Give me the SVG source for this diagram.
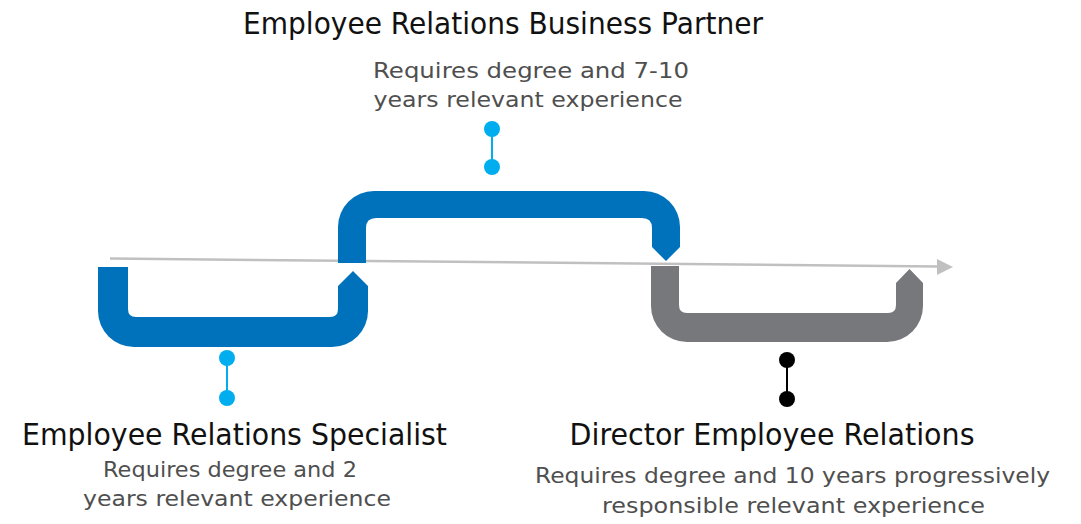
<svg xmlns="http://www.w3.org/2000/svg" width="1081" height="524" viewBox="0 0 1081 524">
<style>
.title{font-family:"DejaVu Sans","Liberation Sans",sans-serif;font-size:29.5px;fill:#111111;text-anchor:middle}
.sub{font-family:"DejaVu Sans","Liberation Sans",sans-serif;font-size:21.5px;fill:#4f4f4f;text-anchor:middle}
.blue{fill:#0071bb}
.gray{fill:#77787b}
.stem-b{stroke:#00aeef;stroke-width:2}
.dot-b{fill:#00aeef}
.stem-k{stroke:#000000;stroke-width:2}
.dot-k{fill:#000000}
</style>
<rect width="1081" height="524" fill="#ffffff"/>
<g id="connectors">
  <line x1="110" y1="258.5" x2="938" y2="266.5" stroke="#c0c0c0" stroke-width="2.5"/>
  <polygon points="937,259 953,267 937,275" fill="#c0c0c0"/>
  <line class="stem-b" x1="227" y1="358" x2="227" y2="398"/>
  <circle class="dot-b" cx="227" cy="358" r="8"/>
  <circle class="dot-b" cx="227" cy="398" r="8"/>
  <line class="stem-b" x1="492" y1="129" x2="492" y2="167"/>
  <circle class="dot-b" cx="492" cy="129" r="8"/>
  <circle class="dot-b" cx="492" cy="167" r="8"/>
  <line class="stem-k" x1="787" y1="360" x2="787" y2="399"/>
  <circle class="dot-k" cx="787" cy="360" r="8"/>
  <circle class="dot-k" cx="787" cy="399" r="8"/>
</g>
<g id="specialist">
  <path class="blue" d="M98,267 H128 V309 Q128,317 136,317 H330 Q338,317 338,309 V286 L353,271 L368,286 V311 A36,36 0 0 1 332,347 H134 A36,36 0 0 1 98,311 Z"/>
  <text class="title" x="234.5" y="445" textLength="425" lengthAdjust="spacingAndGlyphs">Employee Relations Specialist</text>
  <text class="sub" x="230" y="477" textLength="254" lengthAdjust="spacingAndGlyphs">Requires degree and 2</text>
  <text class="sub" x="237" y="506" textLength="308" lengthAdjust="spacingAndGlyphs">years relevant experience</text>
</g>
<g id="business-partner">
  <path class="blue" d="M338,263 V227 A36,36 0 0 1 374,191 H644 A36,36 0 0 1 680,227 V247 L666,261 L652,247 V228 Q652,218 642,218 H376 Q366,218 366,228 V263 Z"/>
  <text class="title" x="503" y="34" textLength="520" lengthAdjust="spacingAndGlyphs">Employee Relations Business Partner</text>
  <text class="sub" x="531" y="78" textLength="316" lengthAdjust="spacingAndGlyphs">Requires degree and 7-10</text>
  <text class="sub" x="528" y="107" textLength="309" lengthAdjust="spacingAndGlyphs">years relevant experience</text>
</g>
<g id="director">
  <path class="gray" d="M651,266 H679 V305 Q679,313 687,313 H888 Q896,313 896,305 V283 L909.5,269 L923,283 V306 A36,36 0 0 1 887,342 H687 A36,36 0 0 1 651,306 Z"/>
  <text class="title" x="772" y="445" textLength="405" lengthAdjust="spacingAndGlyphs">Director Employee Relations</text>
  <text class="sub" x="792.5" y="483" textLength="515" lengthAdjust="spacingAndGlyphs">Requires degree and 10 years progressively</text>
  <text class="sub" x="793.5" y="513" textLength="383" lengthAdjust="spacingAndGlyphs">responsible relevant experience</text>
</g>
</svg>
